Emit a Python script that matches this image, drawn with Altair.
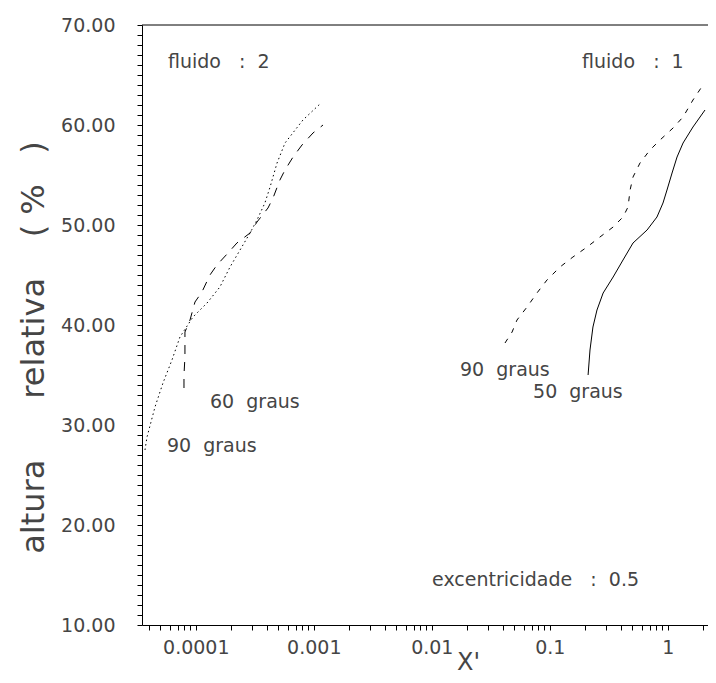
import altair as alt
import pandas as pd

# ---------------- data ----------------
# fluido 2, 90 graus (dotted)
f2_90_x = [3.71e-5, 3.86e-5, 4.51e-5, 5.27e-5, 6.28e-5, 7.34e-5, 9.46e-5, 1.245e-4,
           1.60e-4, 1.95e-4, 2.37e-4, 2.88e-4, 3.30e-4, 3.85e-4, 4.26e-4, 4.88e-4,
           5.70e-4, 8.09e-4, 1.127e-3]
f2_90_y = [27.5, 28.8, 31.8, 34.2, 36.5, 38.8, 40.8, 42.2,
           43.8, 45.8, 47.5, 49.2, 50.5, 52.2, 53.8, 56.2,
           58.2, 60.5, 62.1]

# fluido 2, 60 graus (long dashes)
f2_60_x = [7.94e-5, 7.94e-5, 8.09e-5, 8.09e-5, 8.93e-5, 9.84e-5, 1.127e-4, 1.318e-4,
           1.51e-4, 1.875e-4, 2.23e-4, 2.88e-4, 3.30e-4, 4.09e-4, 4.51e-4, 5.16e-4,
           5.70e-4, 6.67e-4, 7.94e-4, 9.84e-4, 1.197e-3]
f2_60_y = [33.7, 35.0, 36.8, 39.3, 40.5, 42.3, 43.3, 45.0,
           46.0, 47.2, 48.2, 49.2, 50.3, 51.7, 52.7, 54.5,
           55.5, 56.8, 58.0, 59.2, 60.0]

# fluido 1, 90 graus (short dashes)
f1_90_x = [0.0417, 0.0479, 0.0527, 0.0641, 0.0778, 0.0946, 0.122, 0.157,
           0.207, 0.266, 0.344, 0.417, 0.460, 0.479, 0.507, 0.581,
           0.706, 0.859, 1.107, 1.346, 1.633, 1.987]
f1_90_y = [38.2, 39.3, 40.5, 41.8, 43.2, 44.5, 45.8, 46.8,
           47.8, 48.8, 49.8, 50.8, 51.8, 53.5, 54.8, 56.2,
           57.5, 58.5, 59.7, 60.8, 62.5, 64.0]

# fluido 1, 50 graus (solid)
f1_50_x = [0.211, 0.219, 0.232, 0.251, 0.283, 0.344, 0.417, 0.507,
           0.667, 0.809, 0.910, 0.984, 1.086, 1.197, 1.346, 1.633, 2.065]
f1_50_y = [35.0, 37.5, 39.8, 41.5, 43.2, 44.8, 46.5, 48.2,
           49.5, 50.8, 52.2, 53.5, 55.2, 56.8, 58.2, 59.8, 61.5]

NB = "\u00a0"
note_text = ["fluido" + NB * 3 + ":" + NB * 2 + "2",
             "fluido" + NB * 3 + ":" + NB * 2 + "1",
             "60" + NB * 2 + "graus",
             "90" + NB * 2 + "graus",
             "90" + NB * 2 + "graus",
             "50" + NB * 2 + "graus",
             "excentricidade" + NB * 3 + ":" + NB * 2 + "0.5"]
note_x = [5.81e-5, 0.1875, 1.32e-4, 5.70e-5, 0.01734, 0.0721, 0.01005]
note_y = [66.3, 66.3, 32.3, 27.9, 35.5, 33.3, 14.5]

x_major = [1e-4, 1e-3, 1e-2, 1e-1, 1]
x_domain = [3.5e-5, 2.19]
x_minor = [m * 10.0 ** e for e in range(-5, 1) for m in range(2, 10)
           if x_domain[0] <= m * 10.0 ** e <= x_domain[1]]
y_major = [10, 20, 30, 40, 50, 60, 70]
y_minor = [v for v in range(10, 71) if v % 10 != 0]
y_domain = [10, 70]

x_title = "X'"
y_title = ("altura" + NB * 6 + "relativa" + NB * 4 + "(" + NB * 1 + "%" + NB * 3 + ")")

# ---------------- build ----------------
FONT = "DejaVu Sans"
TXT = "#454545"


def series(xs, ys):
    return pd.DataFrame({"x": xs, "y": ys, "i": list(range(len(xs)))})


xscale = alt.Scale(type="log", domain=x_domain, nice=False)
yscale = alt.Scale(domain=y_domain, nice=False, zero=False)

x_is_major = "abs(log(datum.value)/LN10 - round(log(datum.value)/LN10)) < 0.000001"
y_is_major = "datum.value % 10 == 0"

x_axis = alt.Axis(orient="bottom", values=sorted(x_major + x_minor), grid=False,
                  labelExpr=f"({x_is_major}) ? format(datum.value, '~g') : ''",
                  labelFont=FONT, labelFontSize=19, labelColor=TXT,
                  labelPadding=8, labelOverlap=False, labelFlush=False,
                  tickSize=5, tickColor="black", domainColor="black",
                  title=x_title, titleFont=FONT, titleFontSize=24,
                  titleFontWeight="normal", titleColor=TXT,
                  titleX=326, titleY=44, titleAlign="center",
                  titleBaseline="alphabetic")
y_axis = alt.Axis(orient="left", values=sorted(y_major + y_minor), grid=False,
                  labelExpr=f"({y_is_major}) ? format(datum.value, '.2f') : ''",
                  labelFont=FONT, labelFontSize=19, labelColor=TXT,
                  labelPadding=22, labelOverlap=False, labelFlush=False,
                  tickSize=5, tickColor="black", domainColor="black",
                  title=y_title, titleFont=FONT, titleFontSize=32,
                  titleFontWeight="normal", titleColor=TXT,
                  titleAngle=270, titleX=-99, titleY=322,
                  titleAlign="center", titleBaseline="alphabetic")

X = alt.X("x:Q", scale=xscale, axis=x_axis)
Y = alt.Y("y:Q", scale=yscale, axis=y_axis)


def line_layer(df, dash):
    mk = alt.Chart(df).mark_line(color="black", strokeWidth=1,
                                 **({"strokeDash": dash} if dash else {}))
    return mk.encode(x=X, y=Y, order=alt.Order("i:Q"))


l_f2_90 = line_layer(series(f2_90_x, f2_90_y), [1.5, 3])
l_f2_60 = line_layer(series(f2_60_x, f2_60_y), [9, 8])
l_f1_90 = line_layer(series(f1_90_x, f1_90_y), [5, 7])
l_f1_50 = line_layer(series(f1_50_x, f1_50_y), None)

top_rule = alt.Chart(series(f1_90_x[:1], f1_90_y[:1])).mark_rule(
    color="black", strokeWidth=1
).encode(y=alt.value(0))

notes = alt.Chart(pd.DataFrame({"x": note_x, "y": note_y, "t": note_text})).mark_text(
    align="left", baseline="middle", font=FONT, fontSize=19, color=TXT
).encode(x=X, y=Y, text="t:N")

chart = alt.layer(
    l_f2_90, l_f2_60, l_f1_90, l_f1_50, notes, top_rule
).properties(
    width=566, height=600, background="white",
    padding={"left": 134, "top": 17, "right": 0, "bottom": 50},
    autosize=alt.AutoSizeParams(type="none"),
).configure_view(stroke=None)

chart.save("out.html", embed_options={"renderer": "svg", "actions": False})
